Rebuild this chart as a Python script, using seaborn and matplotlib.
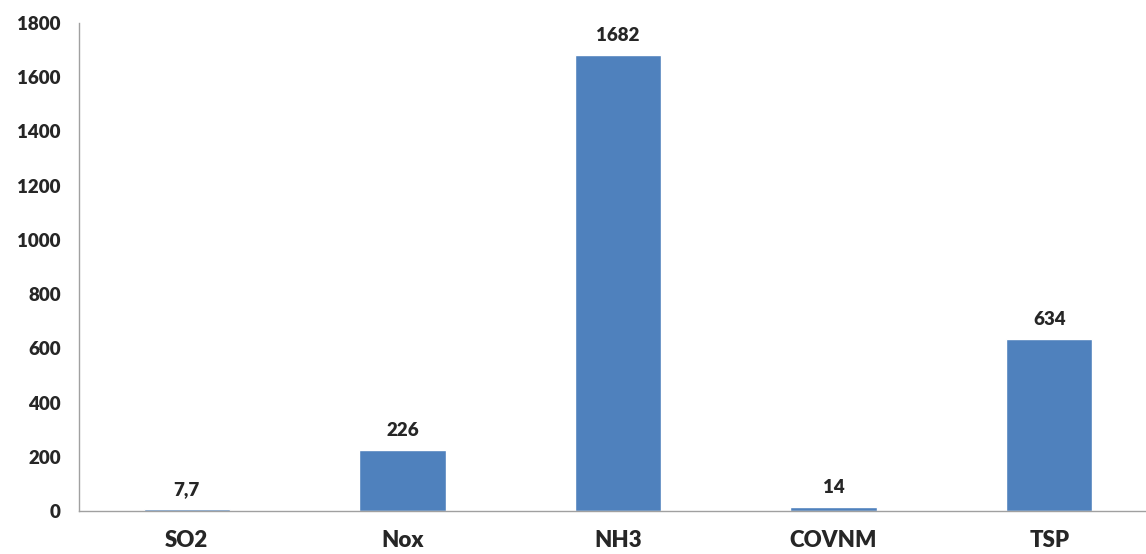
import numpy as np
import pandas as pd
import matplotlib
matplotlib.use("Agg")
import matplotlib.pyplot as plt
import seaborn as sns

# Data
pollutants = ["SO2", "Nox", "NH3", "COVNM", "TSP"]
values = [7.7, 226, 1682, 14, 634]
value_labels = ["7,7", "226", "1682", "14", "634"]

df = pd.DataFrame({"pollutant": pollutants, "value": values})

sns.set_style("white")
plt.rcParams["font.family"] = ["Lato", "DejaVu Sans"]
WEIGHT = "heavy"

fig = plt.figure(figsize=(11.46, 5.54), dpi=100)
ax = fig.add_axes([79 / 1146, 43 / 554, 1078 / 1146, 488 / 554])

sns.barplot(data=df, x="pollutant", y="value", color="#4F81BD",
            width=0.4, saturation=1, ax=ax)

ax.set_ylim(0, 1800)
ax.set_xlim(-0.5, 4.5)
ax.set_yticks(np.arange(0, 1801, 200))
ax.set_xlabel("")
ax.set_ylabel("")

# category separators as x ticks
ax.set_xticks(np.arange(-0.5, 4.6, 1), minor=False)
ax.set_xticklabels([])
ax.set_xticks(np.arange(0, 5), minor=True)
ax.set_xticklabels(pollutants, minor=True, fontsize=16, fontweight=WEIGHT)
ax.tick_params(axis="x", which="minor", length=0, pad=14)
ax.tick_params(axis="x", which="major", length=7, width=1, color="#A0A0A0",
               direction="out")
ax.tick_params(axis="y", length=5, width=1, color="#A0A0A0", direction="out",
               labelsize=13.5, pad=8)
for lbl in ax.get_yticklabels():
    lbl.set_fontweight(WEIGHT)

sns.despine(ax=ax, top=True, right=True)
for side in ["left", "bottom"]:
    ax.spines[side].set_color("#A0A0A0")
    ax.spines[side].set_linewidth(1)

# value labels
for i, (v, txt) in enumerate(zip(values, value_labels)):
    ax.annotate(txt, (i, v), xytext=(0, 8), textcoords="offset points",
                ha="center", va="bottom", fontsize=13.5, fontweight=WEIGHT)

fig.savefig("out.png", dpi=100)
